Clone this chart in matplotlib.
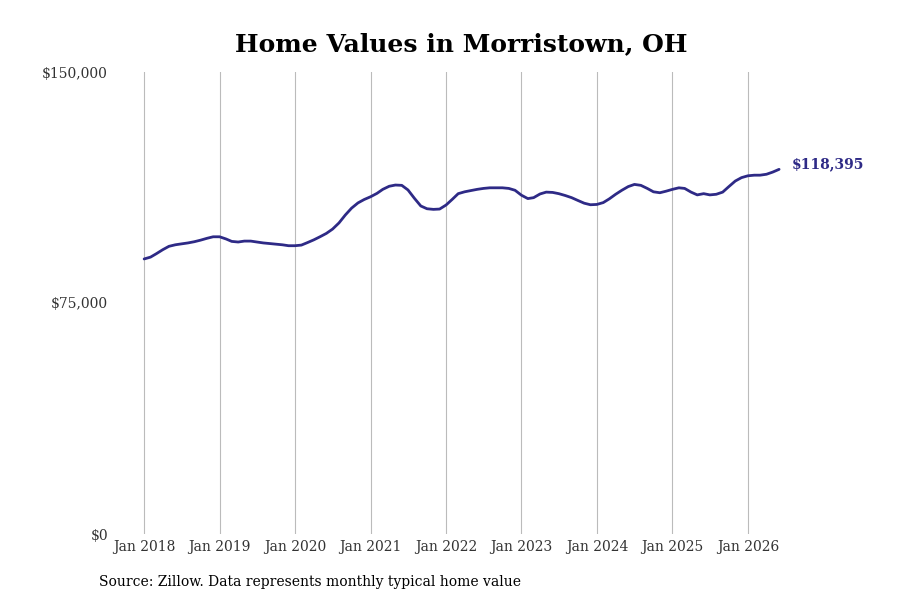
import datetime as dt
import matplotlib
matplotlib.use("Agg")
import matplotlib.pyplot as plt
import matplotlib.dates as mdates
from matplotlib.ticker import FuncFormatter

# monthly typical home value, Jan 2018 - Jun 2026 (thousands of $)
values_2018 = [89.3, 89.9, 91.0, 92.3, 93.4, 93.9, 94.2, 94.5, 94.9, 95.4, 96.0, 96.5]
values_2019 = [96.5, 95.8, 95.0, 94.8, 95.1, 95.1, 94.8, 94.5, 94.3, 94.1, 93.9, 93.6]
values_2020 = [93.6, 93.8, 94.6, 95.5, 96.5, 97.6, 99.0, 101.0, 103.6, 105.8, 107.5, 108.6]
values_2021 = [109.5, 110.6, 111.9, 112.9, 113.3, 113.2, 111.7, 109.0, 106.5, 105.6, 105.4, 105.5]
values_2022 = [106.8, 108.7, 110.5, 111.1, 111.5, 111.9, 112.2, 112.4, 112.4, 112.4, 112.2, 111.6]
values_2023 = [110.0, 108.9, 109.2, 110.4, 111.0, 110.9, 110.5, 109.9, 109.2, 108.3, 107.4, 106.9]
values_2024 = [107.0, 107.6, 108.8, 110.3, 111.6, 112.8, 113.5, 113.2, 112.2, 111.1, 110.8, 111.3]
values_2025 = [111.9, 112.4, 112.2, 111.0, 110.1, 110.5, 110.1, 110.3, 111.0, 112.8, 114.6, 115.7]
values_2026 = [116.3, 116.5, 116.5, 116.8, 117.5, 118.395]

values = (values_2018 + values_2019 + values_2020 + values_2021 + values_2022
          + values_2023 + values_2024 + values_2025 + values_2026)
values = [v * 1000 for v in values]
dates = [dt.date(2018 + i // 12, i % 12 + 1, 1) for i in range(len(values))]

tick_years = list(range(2018, 2027))
last_label = "$118,395"

line_color = "#2e2a86"
plt.rcParams['font.family'] = ['DejaVu Serif']

fig = plt.figure(figsize=(9, 6), dpi=100)
ax = fig.add_axes([115 / 900, 1 - 534 / 600, (870 - 115) / 900, (534 - 72) / 600])

ax.plot(dates, values, color=line_color, linewidth=2.0, solid_capstyle="round")

ax.set_ylim(0, 150000)
ax.set_yticks([0, 75000, 150000])
ax.yaxis.set_major_formatter(FuncFormatter(lambda v, p: f"${v:,.0f}"))

ax.set_xlim(dt.date(2017, 8, 13), dt.date(2027, 8, 15))
ax.set_xticks([dt.date(y, 1, 1) for y in tick_years])
ax.xaxis.set_major_formatter(mdates.DateFormatter("Jan %Y"))

ax.grid(axis="x", color="#bbbbbb", linewidth=0.8)
ax.grid(axis="y", visible=False)
for s in ax.spines.values():
    s.set_visible(False)
ax.tick_params(axis="both", length=0, labelsize=10, labelcolor="#333333")
ax.tick_params(axis="y", pad=5)
ax.tick_params(axis="x", pad=4)

ax.annotate(last_label, xy=(dates[-1], values[-1]), xytext=(9, 4),
            textcoords="offset points", color=line_color, fontsize=10,
            fontweight="bold", va="center", ha="left")

fig.text(461 / 900, 1 - 44 / 600, "Home Values in Morristown, OH",
         ha="center", va="center", fontsize=18, fontweight="bold")
fig.text(99 / 900, 1 - 582 / 600, "Source: Zillow. Data represents monthly typical home value",
         ha="left", va="center", fontsize=10)

fig.savefig("out.png", dpi=100)
